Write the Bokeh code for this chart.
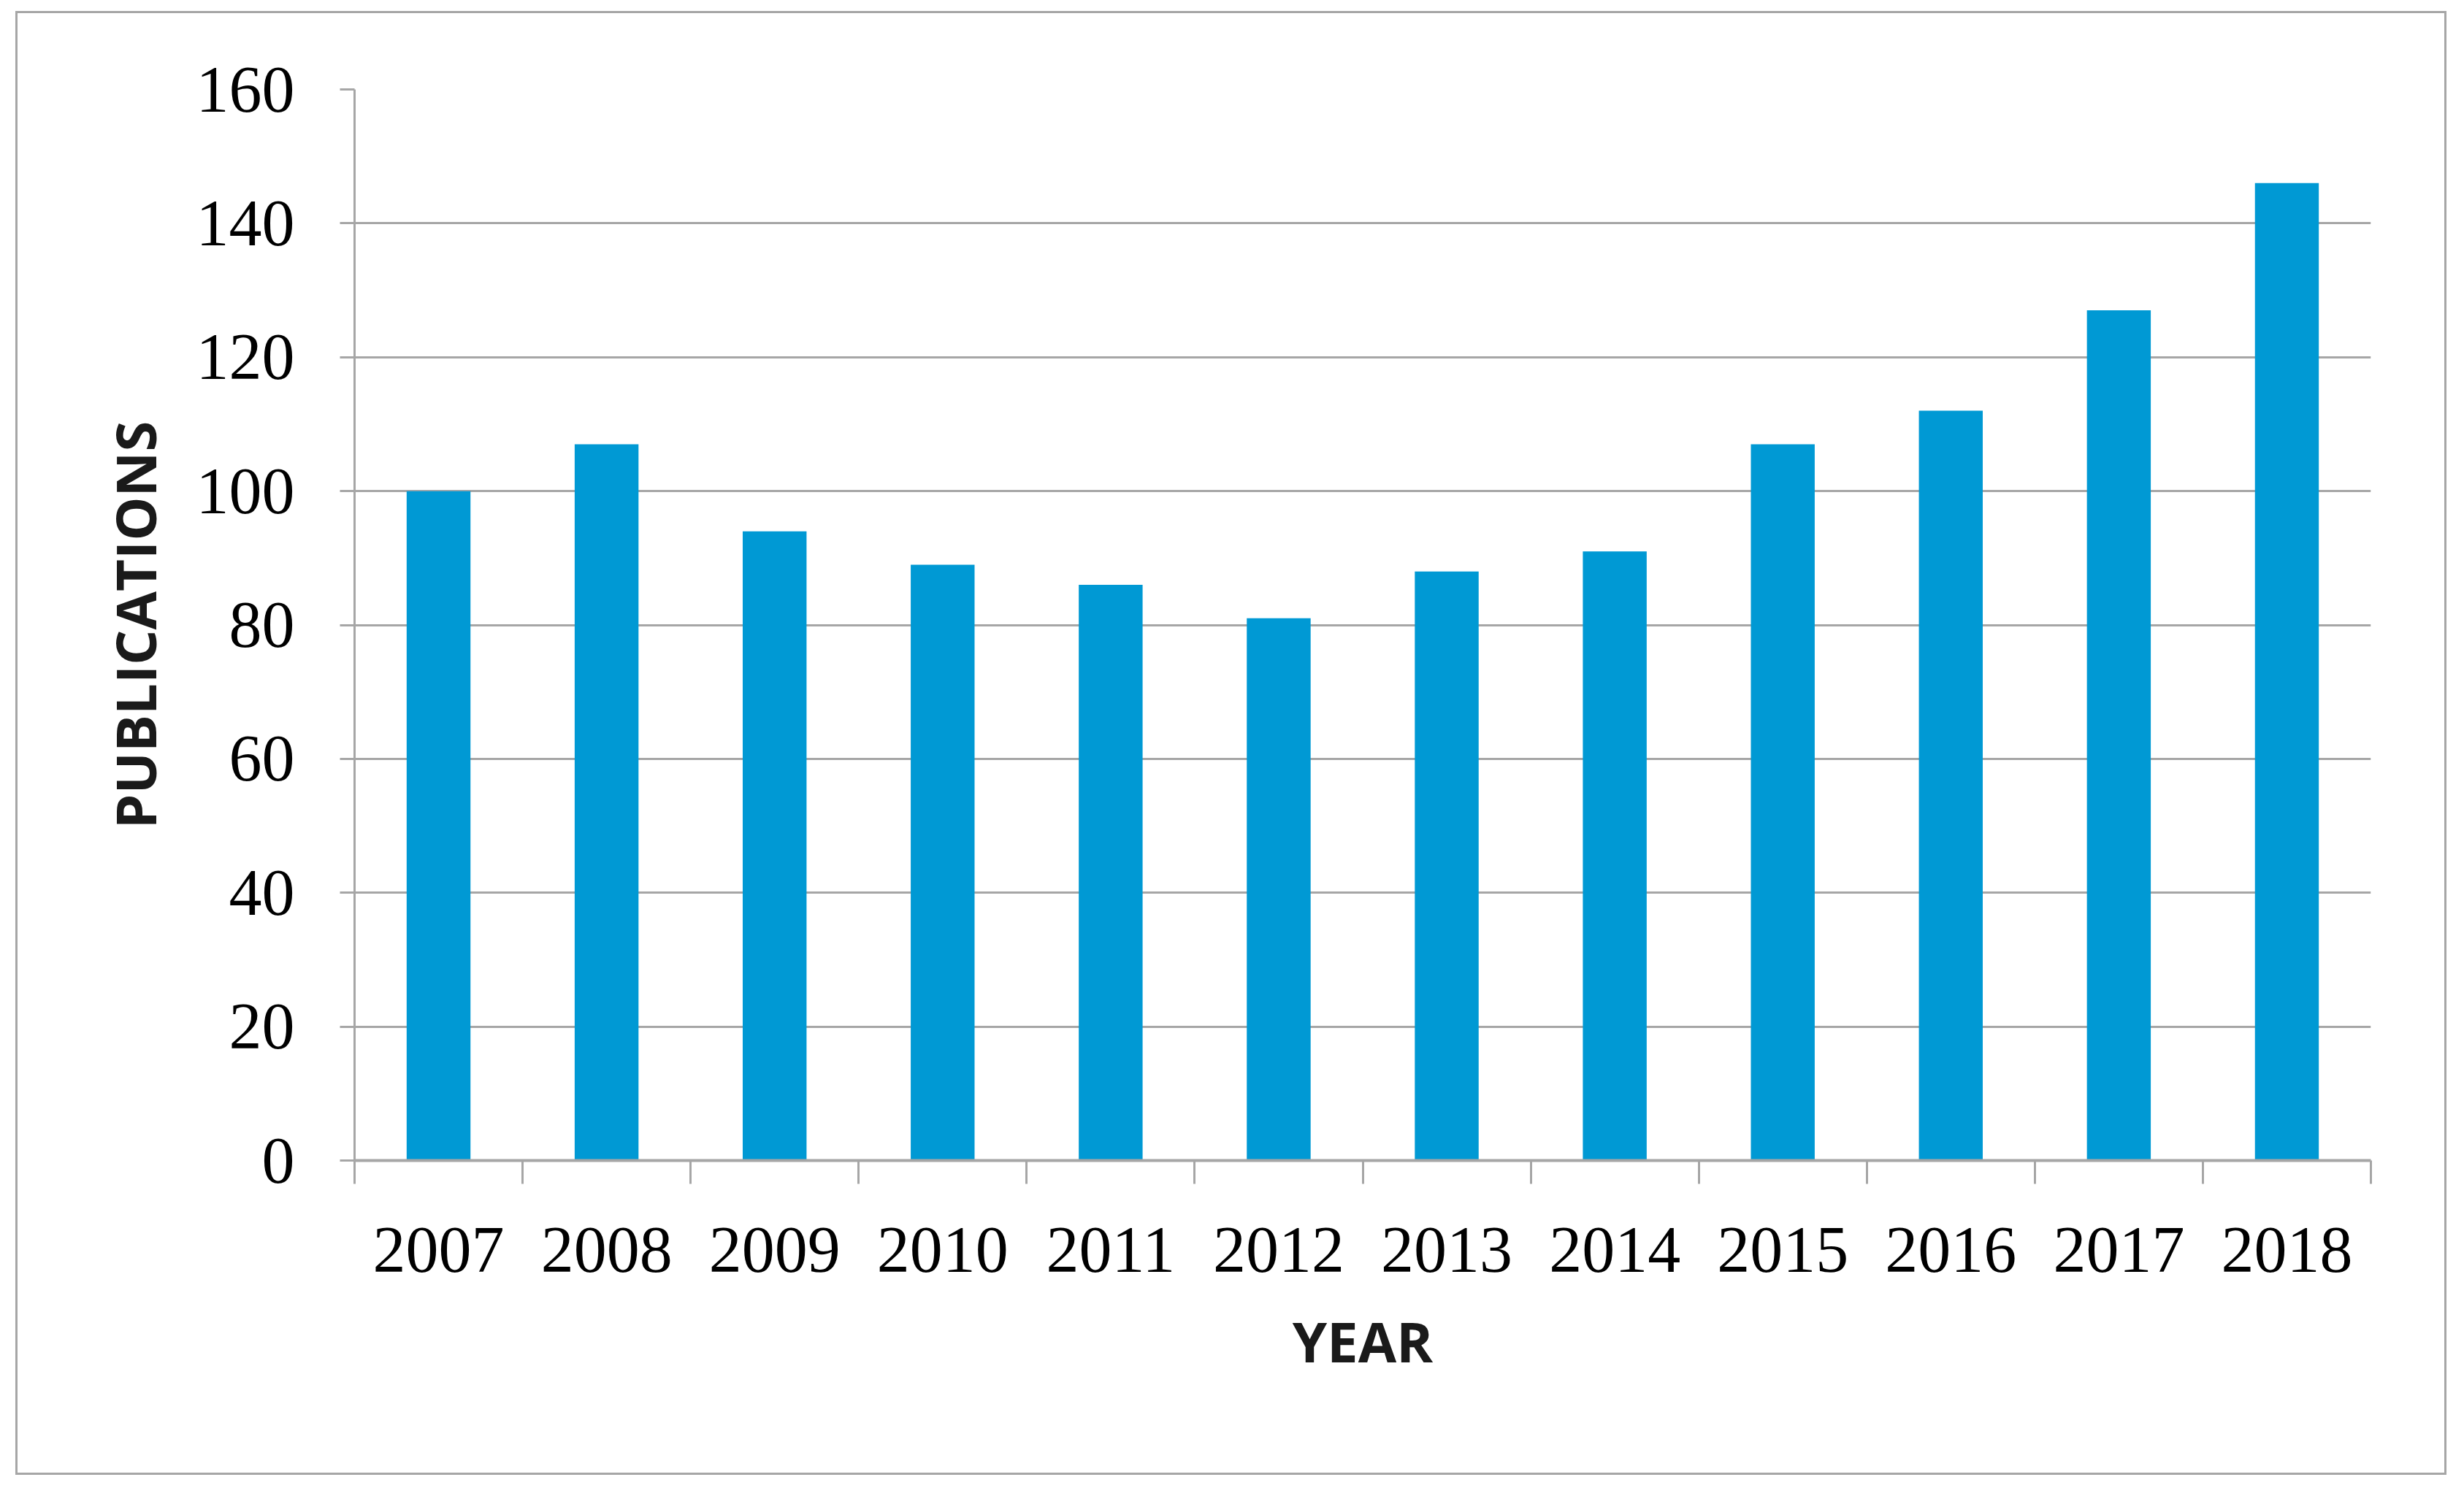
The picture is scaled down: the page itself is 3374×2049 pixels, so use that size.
from bokeh.plotting import figure
from bokeh.models import FixedTicker, Range1d
from bokeh.embed import file_html
from bokeh.resources import INLINE

# ---- data ----
years = ["2007", "2008", "2009", "2010", "2011", "2012",
         "2013", "2014", "2015", "2016", "2017", "2018"]
publications = [100, 107, 94, 89, 86, 81, 88, 91, 107, 112, 127, 146]
y_ticks = [0, 20, 40, 60, 80, 100, 120, 140, 160]

n = len(years)
centers = [i + 0.5 for i in range(n)]
bounds = list(range(n + 1))

GRAY = "#A6A6A6"
BAR = "#0099D4"
TICK_FONT = "Liberation Serif"
LABEL_FONT = "Open Sans"

p = figure(width=3329, height=2005,
           x_range=Range1d(0, n), y_range=Range1d(0, y_ticks[-1]),
           output_backend="svg", toolbar_location=None,
           min_border_left=461, min_border_right=107,
           min_border_top=104, min_border_bottom=434)
p.styles = {"margin-left": "21px", "margin-top": "15px",
            "border": "3px solid " + GRAY}

p.vbar(x=centers, top=publications, width=0.38, color=BAR, line_color=None)

p.outline_line_color = None
p.background_fill_color = "white"
p.border_fill_color = "white"

# x axis
xa = p.xaxis[0]
xa.ticker = FixedTicker(ticks=centers, minor_ticks=bounds)
xa.major_label_overrides = {c: y for c, y in zip(centers, years)}
xa.major_tick_out = 0
xa.major_tick_in = 0
xa.minor_tick_out = 32
xa.minor_tick_in = 0
xa.minor_tick_line_color = GRAY
xa.minor_tick_line_width = 3
xa.axis_line_color = GRAY
xa.axis_line_width = 4
xa.major_label_text_font = TICK_FONT
xa.major_label_text_font_size = "90px"
xa.major_label_text_color = "black"
xa.major_label_standoff = 60
xa.axis_label = "YEAR"
xa.axis_label_text_font = LABEL_FONT
xa.axis_label_text_font_style = "bold"
xa.axis_label_text_font_size = "76px"
xa.axis_label_text_color = "#1a1a1a"
xa.axis_label_standoff = 40

# y axis
ya = p.yaxis[0]
ya.ticker = FixedTicker(ticks=y_ticks)
ya.major_tick_out = 20
ya.major_tick_in = 0
ya.major_tick_line_color = GRAY
ya.major_tick_line_width = 3
ya.minor_tick_out = 0
ya.minor_tick_in = 0
ya.axis_line_color = GRAY
ya.axis_line_width = 3
ya.major_label_text_font = TICK_FONT
ya.major_label_text_font_size = "90px"
ya.major_label_text_color = "black"
ya.major_label_standoff = 62
ya.axis_label = "PUBLICATIONS"
ya.axis_label_text_font = LABEL_FONT
ya.axis_label_text_font_style = "bold"
ya.axis_label_text_font_size = "76px"
ya.axis_label_text_color = "#1a1a1a"
ya.axis_label_standoff = 30

p.xgrid.visible = False
p.ygrid.ticker = FixedTicker(ticks=y_ticks)
p.ygrid.grid_line_color = GRAY
p.ygrid.grid_line_width = 3

open("out.html", "w").write(file_html(p, INLINE))
